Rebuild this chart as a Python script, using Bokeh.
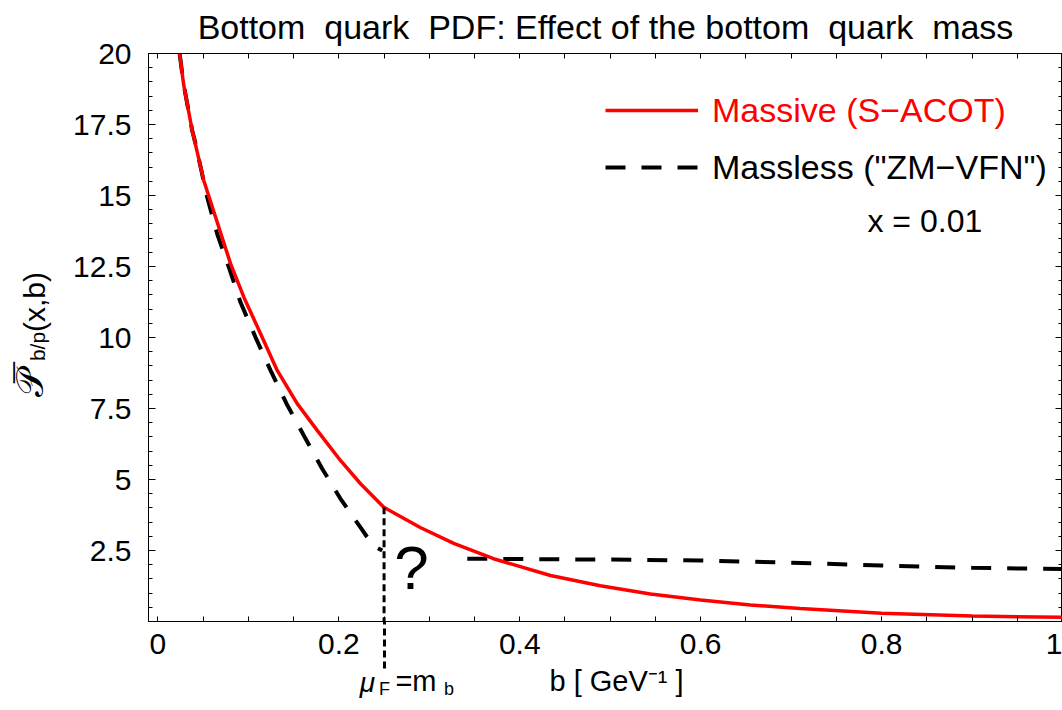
import math
from bokeh.plotting import figure
from bokeh.models import (Range1d, LinearAxis, FixedTicker, Legend, LegendItem,
                          Label, ColumnDataSource)
from bokeh.embed import file_html
from bokeh.resources import INLINE

# ---------------- data ----------------
b_massive = [0.024, 0.0283, 0.0379, 0.0507, 0.0637, 0.0803, 0.0950, 0.1135, 0.1319,
             0.1540, 0.1761, 0.2018, 0.2240, 0.2497, 0.2900, 0.3270, 0.3710, 0.4340,
             0.4890, 0.5445, 0.6000, 0.6550, 0.7100, 0.8000, 0.9000, 1.0000]
P_massive = [20.0, 18.94, 17.29, 15.53, 14.24, 12.60, 11.42, 10.13, 8.84,
             7.67, 6.73, 5.67, 4.85, 4.02, 3.31, 2.75, 2.21, 1.62,
             1.26, 0.97, 0.76, 0.58, 0.46, 0.29, 0.19, 0.15]

b_massless = [0.024, 0.0283, 0.0379, 0.0416, 0.0545, 0.0655, 0.0784, 0.0913, 0.1079,
              0.1245, 0.1422, 0.1613, 0.1816, 0.2019, 0.2251, 0.2376, 0.2480,
              float("nan"),
              0.342, 0.500, 0.600, 0.700, 0.800, 0.900, 1.000]
P_massless = [20.0, 18.94, 17.29, 16.82, 14.94, 13.65, 12.48, 11.24, 10.01,
              8.84, 7.67, 6.55, 5.38, 4.32, 3.26, 2.68, 2.50,
              float("nan"),
              2.21, 2.18, 2.15, 2.07, 1.97, 1.89, 1.85]

m_b = 0.25                       # matching point mu_F = m_b
P_at_mb = 4.02                   # massive value at the kink
x_ticks = [0, 0.2, 0.4, 0.6, 0.8, 1]
x_tick_labels = ["0", "0.2", "0.4", "0.6", "0.8", "1"]
y_ticks = [2.5, 5, 7.5, 10, 12.5, 15, 17.5, 20]
y_tick_labels = ["2.5", "5", "7.5", "10", "12.5", "15", "17.5", "20"]

# ---------------- layout ----------------
W, H = 1062, 710
L, R, T, B = 148, 0, 53, 89
X0, X1 = -0.0104, 1.0
Y0, Y1 = 0, 20
FONT = "Liberation Sans"

def dx(px):   # canvas pixel -> data x (used to place texts)
    return round(X0 + (px - L) * (X1 - X0) / (W - L - R), 4)

def dy(py):   # canvas pixel -> data y
    return round(Y0 + (H - B - py) * (Y1 - Y0) / (H - T - B), 4)

def clean(v):
    return int(round(v)) if abs(v - round(v)) < 1e-9 else round(v, 4)

p = figure(width=W, height=H, x_range=Range1d(X0, X1), y_range=Range1d(Y0, Y1),
           output_backend="svg", toolbar_location=None,
           min_border_left=L, min_border_right=R, min_border_top=T, min_border_bottom=B,
           x_axis_type=None, y_axis_type=None)
p.grid.visible = False
p.background_fill_color = "white"
p.border_fill_color = "white"
p.outline_line_color = "black"
p.outline_line_width = 1

NB = "\u00a0"
p.title.text = f"Bottom{NB} quark{NB} PDF: Effect of the bottom{NB} quark{NB} mass"
p.title.align = "center"
p.title.vertical_align = "top"
p.title.text_font = FONT
p.title.text_font_size = "34px"
p.title.text_font_style = "normal"
p.title.text_color = "black"
p.title.standoff = 11

fine_x = [clean(i * 0.05) for i in range(0, 21)]
minor_y = [clean(i * 0.5) for i in range(0, 41)]

def frame_axis(ticks, minor, labels, tick_in, minor_in):
    ax = LinearAxis(ticker=FixedTicker(ticks=ticks, minor_ticks=minor),
                    major_label_overrides=labels)
    ax.major_tick_in = tick_in
    ax.major_tick_out = 0
    ax.minor_tick_in = minor_in
    ax.minor_tick_out = 0
    ax.axis_line_color = "black"
    ax.axis_line_width = 1
    ax.major_tick_line_color = "black"
    ax.minor_tick_line_color = "black"
    ax.major_label_text_font = FONT
    ax.major_label_text_font_size = "30px"
    ax.major_label_text_color = "black"
    return ax

# bottom axis: ticks every 0.05, labels at 0.2 steps; its single minor tick is the
# dotted mu_F = m_b marker continuing below the frame
xlab = {t: "" for t in fine_x}
xlab.update({clean(t): s for t, s in zip(x_ticks, x_tick_labels)})
xb = frame_axis(fine_x, [m_b], xlab, 5, 0)
xb.minor_tick_out = 47
xb.major_label_standoff = -35
xb.minor_tick_line_width = 3
xb.minor_tick_line_dash = "7 4"
xt = frame_axis(fine_x, [], {t: "" for t in fine_x}, 5, 0)
xt.major_label_standoff = 0

ylab = {clean(t): s for t, s in zip(y_ticks, y_tick_labels)}
yl = frame_axis([clean(t) for t in y_ticks], minor_y, ylab, 7, 4)
yl.major_label_standoff = 17
yr = frame_axis([clean(t) for t in y_ticks], minor_y, {clean(t): "" for t in y_ticks}, 7, 4)
yr.major_label_standoff = 0

p.add_layout(xb, "below")
p.add_layout(xt, "above")
p.add_layout(yl, "left")
p.add_layout(yr, "right")

# text-only axes (stacked outward) carrying the axis-title pieces
def text_axis(place, pos, labels, size, standoff, orientation="horizontal", style="normal"):
    ticks = [clean(v) for v in pos]
    ax = LinearAxis(ticker=FixedTicker(ticks=ticks, minor_ticks=[]),
                    major_label_overrides=dict(zip(ticks, labels)),
                    axis_line_color=None, major_tick_line_color=None,
                    minor_tick_line_color=None,
                    major_tick_in=0, major_tick_out=0, minor_tick_in=0, minor_tick_out=0,
                    major_label_standoff=standoff, major_label_text_font=FONT,
                    major_label_text_font_size=size, major_label_text_font_style=style,
                    major_label_orientation=orientation, major_label_text_color="black")
    p.add_layout(ax, place)
    return ax

# below: "=m" and the axis title, then the italic mu, then the subscripts
text_axis("below", [dx(415.5), dx(616)], ["=m", "b [ GeV\u207b\u00b9 ]"], "29px", 8)
text_axis("below", [dx(367)], ["\u03bc"], "28px", -33, style="italic")
text_axis("below", [dx(384), dx(448.5)], ["F", "b"], "18px", -22)
# left: rotated y-axis title  P-bar_{b/p}(x,b)
text_axis("left", [dy(301.5)], ["(x,b)"], "30px", 20, orientation="vertical")
text_axis("left", [dy(383.5), dy(372)], ["\U0001D4AB", "\u00af"], "38px", -37,
          orientation="vertical")
text_axis("left", [dy(346)], ["b/p"], "21px", -43, orientation="vertical")

# ---------------- curves ----------------
src_m = ColumnDataSource(dict(b=b_massive, P=P_massive))
src_z = ColumnDataSource(dict(b=b_massless, P=P_massless))
r_z = p.line("b", "P", source=src_z, line_color="black", line_width=4, line_dash="20 16")
r_m = p.line("b", "P", source=src_m, line_color="red", line_width=3.5)
p.segment(x0=[m_b], y0=[P_at_mb], x1=[m_b], y1=[0], line_color="black",
          line_width=3, line_dash="7 4")

# ---------------- legends ----------------
def make_legend(label, renderer, color, top_px):
    return Legend(items=[LegendItem(label=label, renderers=[renderer])],
                  location=(605 - L, (H - B) - (top_px + 40)),
                  border_line_color=None, background_fill_alpha=0,
                  padding=0, margin=0, spacing=0,
                  glyph_width=93, glyph_height=40, label_height=40,
                  label_standoff=14, label_text_font=FONT, label_text_font_size="34px",
                  label_text_color=color, label_text_baseline="middle")

p.add_layout(make_legend("Massive (S\u2212ACOT)", r_m, "red", 90))
p.add_layout(make_legend("Massless (\"ZM\u2212VFN\")", r_z, "black", 147))

# ---------------- in-frame texts ----------------
p.add_layout(Label(x=dx(867), y=dy(220), text="x = 0.01", text_font=FONT,
                   text_font_size="32px", text_baseline="alphabetic", text_color="black"))
p.add_layout(Label(x=dx(411), y=dy(567), text="?", text_font=FONT, text_font_size="62px",
                   text_align="center", text_baseline="alphabetic", text_color="black"))

open("out.html", "w").write(file_html(p, INLINE))
